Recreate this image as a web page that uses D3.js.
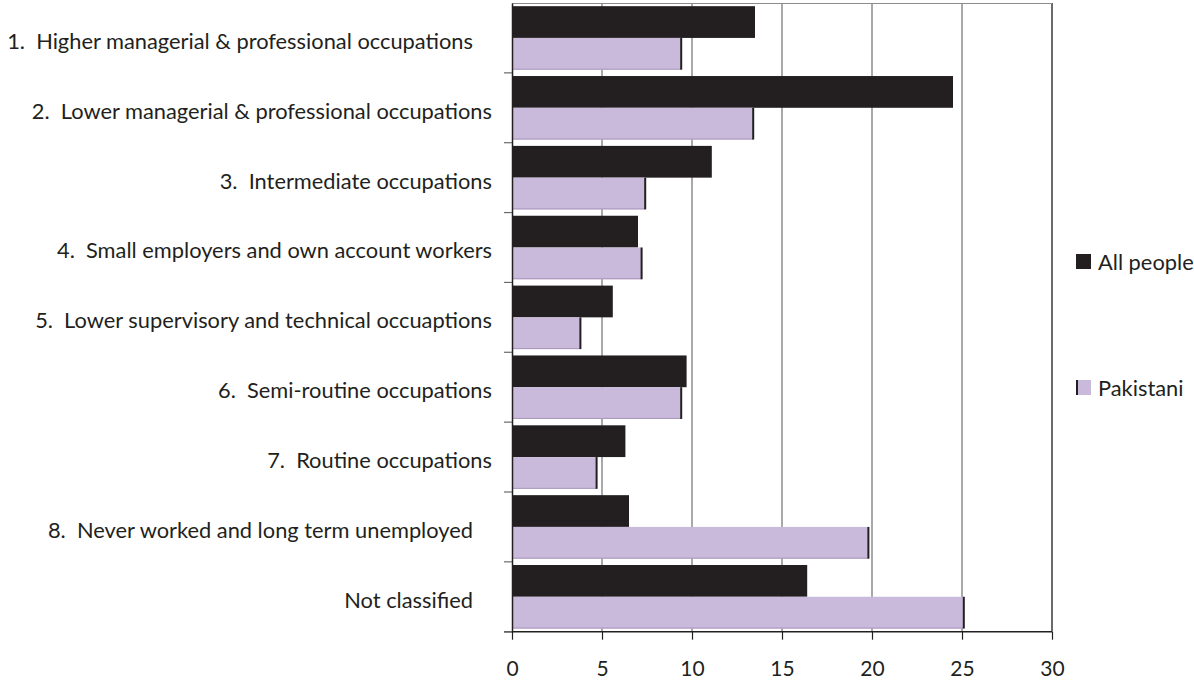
<!DOCTYPE html>
<html>
<head>
<meta charset="utf-8">
<script src="https://cdn.jsdelivr.net/npm/d3@7"></script>
<style>
  html, body { margin: 0; padding: 0; background: #fff; }
  svg text { font-family: Lato, "Noto Sans", sans-serif; fill: #231f20; white-space: pre; }
</style>
</head>
<body>
<svg id="chart" width="1194" height="682"></svg>
<script>
const categories = [
  "1.  Higher managerial & professional occupations",
  "2.  Lower managerial & professional occupations",
  "3.  Intermediate occupations",
  "4.  Small employers and own account workers",
  "5.  Lower supervisory and technical occuaptions",
  "6.  Semi-routine occupations",
  "7.  Routine occupations",
  "8.  Never worked and long term unemployed",
  "Not classified"
];
const seriesNames = ["All people", "Pakistani"];
const allPeople = [13.5, 24.5, 11.1, 7.0, 5.6, 9.7, 6.3, 6.5, 16.4];
const pakistani = [9.4, 13.4, 7.4, 7.2, 3.8, 9.4, 4.7, 19.8, 25.1];
const xTicks = [0, 5, 10, 15, 20, 25, 30];

const colors = { "All people": "#231f20", "Pakistani": "#c9b9da" };
const edge = "#231f20";

const svg = d3.select("#chart");
const margin = { left: 512, right: 142, top: 3, bottom: 50 };
const W = 1194, H = 682;
const plotW = W - margin.left - margin.right;
const plotH = H - margin.top - margin.bottom - 0.3;

const x = d3.scaleLinear().domain([0, 30]).range([margin.left, margin.left + plotW]);
const y = d3.scaleBand().domain(categories).range([margin.top, margin.top + plotH]).padding(0);
const ySub = d3.scaleBand().domain(seriesNames).range([0, y.bandwidth()]).paddingOuter(0.1).paddingInner(0);

const rows = categories.map((c, i) => ({ cat: c, vals: [
  { s: "All people", v: allPeople[i] },
  { s: "Pakistani", v: pakistani[i] }
]}));

// gridlines
svg.append("g").selectAll("line").data(xTicks.slice(1)).join("line")
  .attr("x1", d => x(d)).attr("x2", d => x(d))
  .attr("y1", margin.top).attr("y2", margin.top + plotH)
  .attr("stroke", d => d === 30 ? "#3a3a3a" : "#8c8c8c").attr("stroke-width", 1.5);
// top border
svg.append("line").attr("x1", x(0)).attr("x2", x(30))
  .attr("y1", margin.top + 0.5).attr("y2", margin.top + 0.5)
  .attr("stroke", "#8c8c8c").attr("stroke-width", 1.2);

// bars
const g = svg.append("g").selectAll("g").data(rows).join("g")
  .attr("transform", d => `translate(0,${y(d.cat)})`);
g.selectAll("rect.bar").data(d => d.vals).join("rect")
  .attr("class", "bar")
  .attr("x", x(0))
  .attr("y", d => ySub(d.s))
  .attr("width", d => x(d.v) - x(0))
  .attr("height", ySub.bandwidth())
  .attr("fill", d => colors[d.s]);
g.selectAll("line.bedge").data(d => d.vals.filter(v => v.s === "Pakistani")).join("line")
  .attr("class", "bedge")
  .attr("x1", x(0)).attr("x2", d => x(d.v))
  .attr("y1", d => ySub(d.s) + ySub.bandwidth() - 0.5).attr("y2", d => ySub(d.s) + ySub.bandwidth() - 0.5)
  .attr("stroke", "#a996bb").attr("stroke-width", 1);
g.selectAll("line.edge").data(d => d.vals.filter(v => v.s === "Pakistani")).join("line")
  .attr("class", "edge")
  .attr("x1", d => x(d.v)).attr("x2", d => x(d.v))
  .attr("y1", d => ySub(d.s)).attr("y2", d => ySub(d.s) + ySub.bandwidth())
  .attr("stroke", edge).attr("stroke-width", 2);

// x axis
const xAxis = svg.append("g").attr("transform", `translate(0,${margin.top + plotH})`)
  .call(d3.axisBottom(x).tickValues(xTicks).tickSize(8).tickPadding(21).tickSizeOuter(0));
xAxis.select(".domain").attr("stroke", "#231f20").attr("stroke-width", 1.5)
  .attr("d", `M${x(0) - 8},0H${x(30)}`);
xAxis.selectAll(".tick line").attr("stroke", "#231f20").attr("stroke-width", 1.2);
xAxis.selectAll(".tick text").style("font-size", "21px").attr("fill", "#231f20");

// y axis
const yAxis = svg.append("g").attr("transform", `translate(${x(0)},0)`)
  .call(d3.axisLeft(y).tickSize(0).tickPadding(20).tickSizeOuter(0));
yAxis.select(".domain").attr("stroke", "#231f20").attr("stroke-width", 1.5);
yAxis.selectAll(".tick text").attr("fill", "#231f20").attr("dy", "0.5em");
// labels 1, 8 and "Not classified" sit further left in the original
const shifted = new Set([categories[0], categories[7], categories[8]]);
yAxis.selectAll(".tick text").attr("dx", d => shifted.has(d) ? -19 : 0);
// category boundary ticks
const bounds = d3.range(categories.length + 1).map(i => margin.top + i * y.step());
yAxis.append("g").selectAll("line").data(bounds.slice(1)).join("line")
  .attr("x1", -8).attr("x2", 0).attr("y1", d => d).attr("y2", d => d)
  .attr("stroke", "#6a6a6a").attr("stroke-width", 1.2);

// fit label font size to the original label width
const tmp = svg.append("text").style("font-size", "20px").text(categories[0]);
const wt = tmp.node().getComputedTextLength();
tmp.remove();
const fs = 20 * 466 / wt;
yAxis.selectAll(".tick text").style("font-size", fs + "px");

// legend
const legendItems = [
  { s: "All people", y: 254 },
  { s: "Pakistani", y: 380 }
];
const leg = svg.append("g").selectAll("g").data(legendItems).join("g")
  .attr("transform", d => `translate(1076,${d.y})`);
leg.append("rect").attr("width", 15).attr("height", 15).attr("fill", d => colors[d.s]);
leg.filter(d => d.s === "Pakistani").append("line")
  .attr("x1", 1).attr("x2", 1).attr("y1", 0).attr("y2", 15).attr("stroke", edge).attr("stroke-width", 2);
leg.append("text").attr("x", 22).attr("y", 7.5).attr("dy", "0.38em")
  .style("font-size", fs + "px").text(d => d.s);
</script>
</body>
</html>
